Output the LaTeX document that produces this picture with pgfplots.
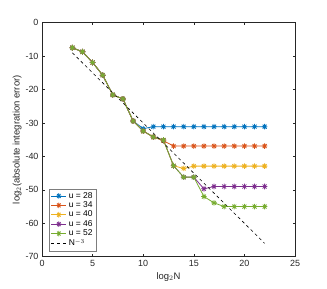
\documentclass[border=0pt]{standalone}
\usepackage{pgfplots}
\pgfplotsset{compat=1.18}
\usepackage{fontspec}
\setmainfont{Liberation Sans}
\definecolor{mb}{rgb}{0,0.447,0.741}
\definecolor{mr}{rgb}{0.85,0.325,0.098}
\definecolor{my}{rgb}{0.929,0.694,0.125}
\definecolor{mp}{rgb}{0.494,0.184,0.556}
\definecolor{mg}{rgb}{0.466,0.674,0.188}
\definecolor{ax}{gray}{0.15}
\pgfdeclareplotmark{mstar}{%
  \pgfpathmoveto{\pgfqpoint{-\pgfplotmarksize}{0pt}}\pgfpathlineto{\pgfqpoint{\pgfplotmarksize}{0pt}}%
  \pgfpathmoveto{\pgfqpoint{0pt}{-\pgfplotmarksize}}\pgfpathlineto{\pgfqpoint{0pt}{\pgfplotmarksize}}%
  \pgfpathmoveto{\pgfqpoint{-0.707\pgfplotmarksize}{-0.707\pgfplotmarksize}}\pgfpathlineto{\pgfqpoint{0.707\pgfplotmarksize}{0.707\pgfplotmarksize}}%
  \pgfpathmoveto{\pgfqpoint{-0.707\pgfplotmarksize}{0.707\pgfplotmarksize}}\pgfpathlineto{\pgfqpoint{0.707\pgfplotmarksize}{-0.707\pgfplotmarksize}}%
  \pgfusepathqstroke}
\begin{document}
\begin{tikzpicture}
\useasboundingbox (-42bp,-32.3bp) rectangle (285bp,256.7bp);
\begin{axis}[
  at={(0,0)}, anchor=south west,
  width=253bp, height=234bp, scale only axis,
  xmin=0, xmax=25, ymin=-70, ymax=0,
  xtick={0,5,...,25}, ytick={-70,-60,...,0},
  tick align=inside, major tick length=2.5bp,
  axis line style={ax, line width=0.5pt},
  tick style={ax, line width=0.5pt},
  every tick label/.append style={font=\fontsize{9}{10}\selectfont, text=ax},
  /pgf/number format/assume math mode=true,
  xlabel={log$_2$N}, ylabel={log$_2$(absolute integration error)},
  label style={font=\fontsize{9.5}{11}\selectfont, text=ax},
  xlabel style={yshift=1bp},
  ylabel style={yshift=-3bp},
  legend style={at={(0.028,0.024)}, anchor=south west, draw=ax!60, line width=0.4pt,
    font=\fontsize{8.5}{9}\selectfont, inner sep=1.5pt, row sep=-2pt,
    legend cell align=left},
  legend image post style={xscale=0.9},
  every axis plot/.append style={line width=0.8pt, mark=mstar, mark size=2.8pt},
]
\addplot[mb] coordinates {(3,-7.5)(4,-8.7)(5,-11.9)(6,-15.7)(7,-21.6)(8,-22.8)(9,-29.4)(10,-31.7)(11,-31.1)(12,-31.1)(13,-31.1)(14,-31.1)(15,-31.1)(16,-31.1)(17,-31.1)(18,-31.1)(19,-31.1)(20,-31.1)(21,-31.1)(22,-31.1)};
\addplot[mr] coordinates {(3,-7.5)(4,-8.7)(5,-11.9)(6,-15.7)(7,-21.6)(8,-22.8)(9,-29.4)(10,-32.4)(11,-34.2)(12,-35.3)(13,-36.9)(14,-36.9)(15,-36.9)(16,-36.9)(17,-36.9)(18,-36.9)(19,-36.9)(20,-36.9)(21,-36.9)(22,-36.9)};
\addplot[my] coordinates {(3,-7.5)(4,-8.7)(5,-11.9)(6,-15.7)(7,-21.6)(8,-22.8)(9,-29.4)(10,-32.4)(11,-34.2)(12,-35.1)(13,-42.8)(14,-43.6)(15,-42.9)(16,-42.9)(17,-42.9)(18,-42.9)(19,-42.9)(20,-42.9)(21,-42.9)(22,-42.9)};
\addplot[mp] coordinates {(3,-7.5)(4,-8.7)(5,-11.9)(6,-15.7)(7,-21.6)(8,-22.8)(9,-29.4)(10,-32.4)(11,-34.2)(12,-35.1)(13,-42.8)(14,-46.2)(15,-46.2)(16,-49.7)(17,-49.0)(18,-49.0)(19,-49.0)(20,-49.0)(21,-49.0)(22,-49.0)};
\addplot[mg] coordinates {(3,-7.5)(4,-8.7)(5,-11.9)(6,-15.7)(7,-21.6)(8,-22.8)(9,-29.4)(10,-32.4)(11,-34.2)(12,-35.1)(13,-42.8)(14,-46.2)(15,-46.2)(16,-52.0)(17,-53.9)(18,-55.0)(19,-55.0)(20,-55.0)(21,-55.0)(22,-55.0)};
\addplot[black, dashed, mark=none, line width=0.6pt] coordinates {(3,-9)(22,-66)};
\legend{u = 28, u = 34, u = 40, u = 46, u = 52, N$^{-3}$}
\end{axis}
\end{tikzpicture}
\end{document}
